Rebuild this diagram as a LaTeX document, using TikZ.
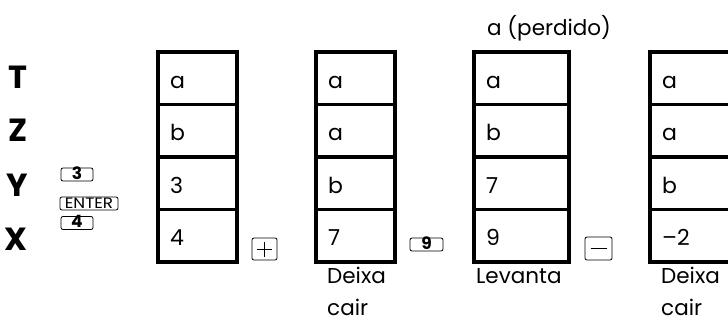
\documentclass[tikz,border=0pt]{standalone}
\usepackage{fontspec}
\setmainfont{Poppins}
\begin{document}
\begin{tikzpicture}[x=1pt,y=-1pt,
  stk/.style={line width=3.3pt},
  celltxt/.style={anchor=base west, inner sep=0pt, font=\fontsize{22}{24}\selectfont},
  reg/.style={anchor=center, inner sep=0pt, font=\fontsize{32}{34}\selectfont\bfseries},
  key/.style={draw, line width=0.8pt, rounded corners=2pt, inner sep=0pt, font=\fontsize{17}{17}\selectfont\bfseries},
  note/.style={anchor=base west, inner sep=0pt, font=\fontsize{21.5}{24}\selectfont}]
\useasboundingbox (0,0) rectangle (728,322);
% stacks
\foreach \l/\r in {158/237, 316/395, 474/569, 650/770} {
  \draw[stk] (\l,52) rectangle (\r,262);
  \foreach \y in {104.5,157,209.5} \draw[stk] (\l,\y) -- (\r,\y);
}
% cell contents
\foreach \s/\l/\vt/\vz/\vy/\vx in {1/158/a/b/3/4, 2/316/a/a/b/7, 3/474/a/b/7/9, 4/650/a/a/b/{\textendash2}} {
  \node[celltxt] (c\s t) at (\l+12,88) {\vt};
  \node[celltxt] (c\s z) at (\l+12,140.5) {\vz};
  \node[celltxt] (c\s y) at (\l+12,193) {\vy};
  \node[celltxt] (c\s x) at (\l+12,245.5) {\vx};
}
% register labels
\node[reg] (rT) at (18,77) {T};
\node[reg] (rZ) at (18,130.5) {Z};
\node[reg] (rY) at (17,185) {Y};
\node[reg] (rX) at (16,239) {X};
% keys
\node[key, minimum width=32pt, minimum height=13pt] (k3) at (77,174.5) {\raisebox{0pt}[9pt][0pt]{3}};
\node[key, minimum width=58pt, minimum height=13pt, font=\fontsize{15}{15}\selectfont] (kenter) at (89,203.5) {\scalebox{1.12}[1]{\raisebox{0pt}[9pt][0pt]{ENTER}}};
\node[key, minimum width=32pt, minimum height=13pt] (k4) at (77,223) {\raisebox{0pt}[9pt][0pt]{4}};
\node[key, minimum width=25pt, minimum height=22pt] (kplus) at (264.5,249) {};
\draw[line width=1pt] ([xshift=-7.5pt]kplus.center) -- ([xshift=7.5pt]kplus.center)
  ([yshift=-7.5pt]kplus.center) -- ([yshift=7.5pt]kplus.center);
\node[key, minimum width=33pt, minimum height=13pt] (k9) at (426.5,244.5) {\raisebox{0pt}[9pt][0pt]{9}};
\node[key, minimum width=27pt, minimum height=23pt] (kminus) at (598.5,248.5) {};
\draw[line width=1pt] ([xshift=-8pt]kminus.center) -- ([xshift=8pt]kminus.center);
% notes
\node[note] (lost) at (487,35) {a (perdido)};
\node[note] (d1a) at (327,283) {Deixa};
\node[note] (d1b) at (327,315) {cair};
\node[note] (lev) at (476,283) {Levanta};
\node[note] (d2a) at (661,283) {Deixa};
\node[note] (d2b) at (661,315) {cair};
\end{tikzpicture}
\end{document}
